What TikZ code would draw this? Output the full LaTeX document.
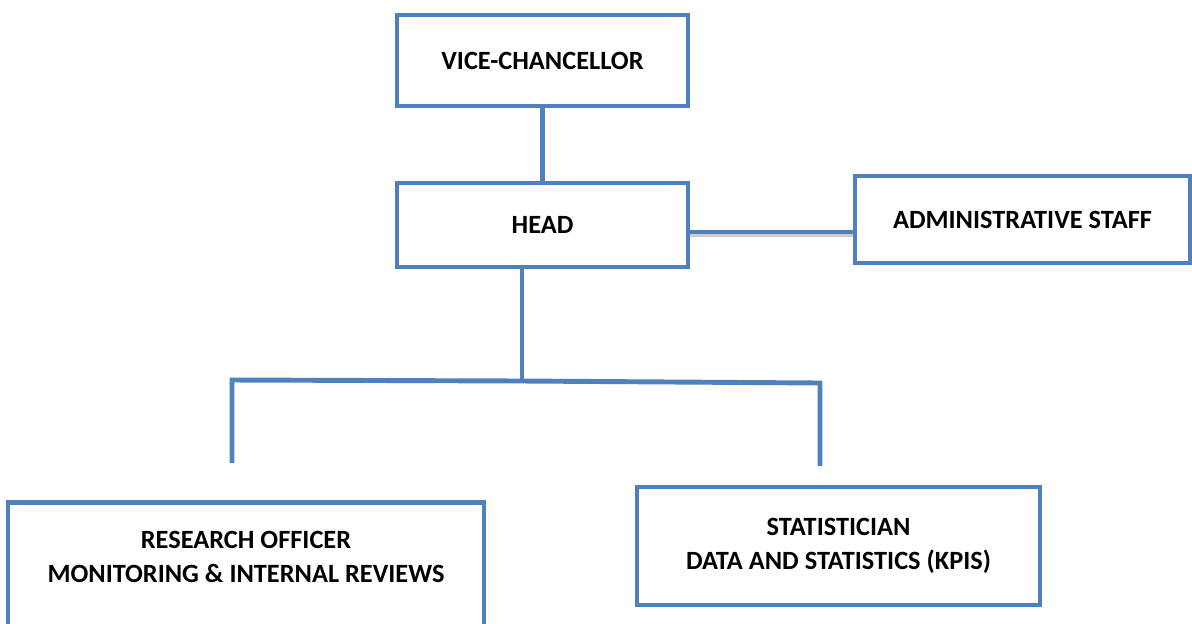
\documentclass[tikz,border=0pt]{standalone}
\usepackage{fontspec}
\setmainfont{Carlito}
\usepackage{xcolor}
\definecolor{orgblue}{HTML}{4F81BD}
\usetikzlibrary{positioning}

\begin{document}
\begin{tikzpicture}[
    box/.style={rectangle, draw=orgblue, line width=2.8pt, fill=white,
                font=\bfseries\fontsize{15}{19}\selectfont, align=center},
    link/.style={draw=orgblue, line width=2.8pt},
    shade/.style={draw=gray!40, line width=1.4pt}
]
\clip[use as bounding box] (0,0) rectangle (23.84,-12.46);
\node[box, minimum width=5.82cm, minimum height=1.82cm] (vc)    at (10.85,-1.21)  {VICE-CHANCELLOR};
\node[box, minimum width=5.82cm, minimum height=1.68cm] (head)  at (10.85,-4.50)  {HEAD};
\node[box, minimum width=6.70cm, minimum height=1.74cm] (admin) at (20.45,-4.39)  {ADMINISTRATIVE STAFF};
\node[box, minimum width=9.52cm, minimum height=3.40cm, anchor=north] (res) at (4.92,-10.00) {};
\node[font=\bfseries\fontsize{15}{19}\selectfont, align=center] (restxt) at ([yshift=-1.14cm]res.north)
    {RESEARCH OFFICER\\MONITORING \& INTERNAL REVIEWS};
\node[box, minimum width=8.06cm, minimum height=2.36cm] (stat)  at (16.77,-10.92) {STATISTICIAN\\DATA AND STATISTICS (KPIS)};
% joints of the tree
\coordinate (drop)  at (10.44,-7.62);
\coordinate (left)  at (4.64,-7.60);
\coordinate (right) at (16.40,-7.66);
\coordinate (lend)  at (4.64,-9.26);
\coordinate (rend)  at (16.40,-9.32);
\draw[link] (vc.south) -- (head.north);
\draw[shade] ([yshift=-0.21cm]head.east) -- ([yshift=-0.21cm]head.east -| admin.west);
\draw[link] ([yshift=-0.14cm]head.east) -- ([yshift=-0.14cm]head.east -| admin.west);
\draw[link] (head.south -| drop) -- (drop);
\draw[link] (lend) -- (left) -- (drop) -- (right) -- (rend);
\end{tikzpicture}
\end{document}
